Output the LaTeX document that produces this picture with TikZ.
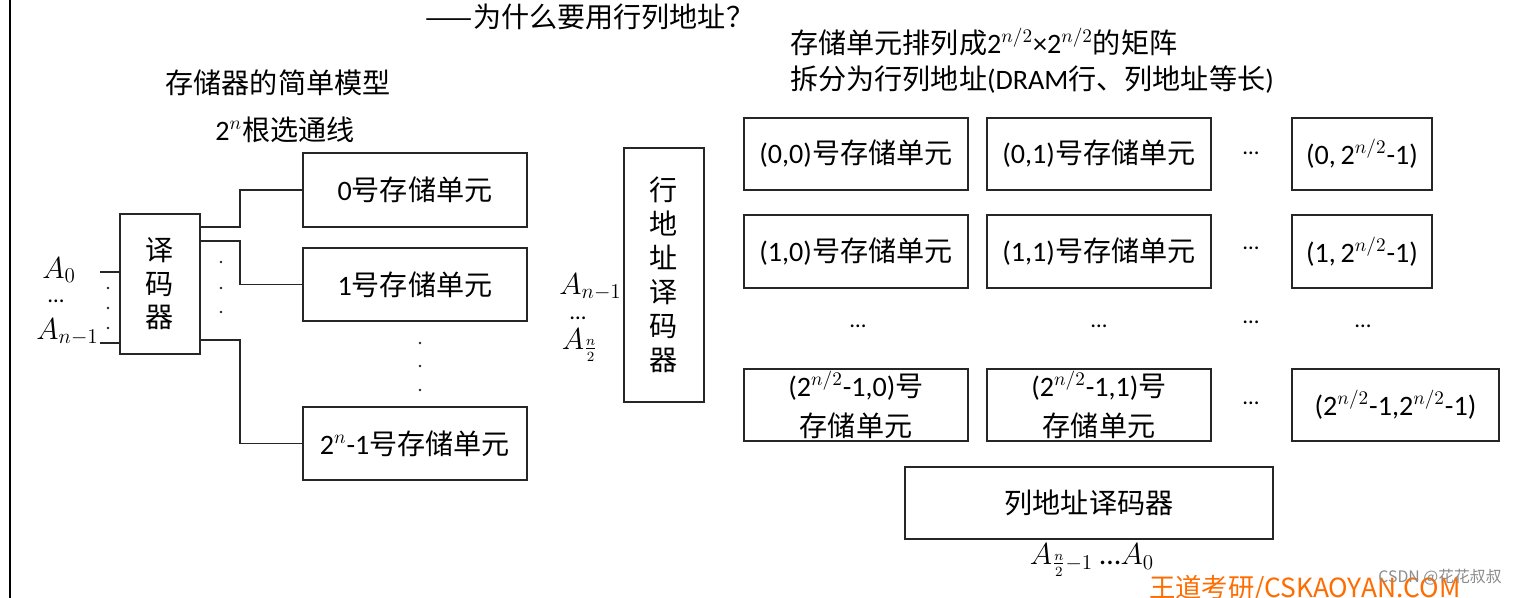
\documentclass[tikz,border=0pt]{standalone}
\usepackage{fontspec}
\setmainfont{Carlito}
\newfontfamily\cjk{Noto Sans CJK SC}
\newcommand{\zh}[1]{{\cjk #1}}
\begin{document}
\begin{tikzpicture}[x=0.02cm,y=-0.02cm,
  box/.style={draw=black!85,line width=0.9pt,inner sep=0pt,align=center,font=\fontsize{16}{19}\selectfont},
  wire/.style={draw=black!85,line width=0.8pt},
  lbl/.style={inner sep=0pt,font=\fontsize{16}{19}\selectfont},
  mlbl/.style={inner sep=0pt,font=\fontsize{17}{19}\selectfont},
  dotf/.style={fill=black!85},
  ell/.style={inner sep=0pt,font=\fontsize{13}{15}\selectfont}]
\useasboundingbox (0,0) rectangle (1516,598);
\fill[white] (0,0) rectangle (1516,598);
\draw[black,line width=1.3pt] (10,0) -- (10,598);

% headings
\node[lbl] (title) at (590,17) {\zh{——为什么要用行列地址？}};
\node[lbl] (h1) at (278,83) {\zh{存储器的简单模型}};
\node[lbl] (h2) at (285,130) {2$^{n}$\zh{根选通线}};
\node[lbl,anchor=west] (h3) at (790,42) {\zh{存储单元排列成}2$^{n/2}$×2$^{n/2}$\zh{的矩阵}};
\node[lbl,anchor=west] (h4) at (790,80) {\zh{拆分为行列地址}(DRAM\zh{行、列地址等长})};

% simple model
\node[box,minimum width=1.6cm,minimum height=2.8cm,font=\cjk\fontsize{16}{19}\selectfont] (dec) at (160,284) {译\\码\\器};
\node[box,minimum width=4.48cm,minimum height=1.48cm] (m0) at (415,190) {0\zh{号存储单元}};
\node[box,minimum width=4.48cm,minimum height=1.46cm] (m1) at (415,284.5) {1\zh{号存储单元}};
\node[box,minimum width=4.48cm,minimum height=1.46cm] (mN) at (415,443.5) {2$^{n}$-1\zh{号存储单元}};

\coordinate (o1) at (200,227);
\coordinate (o2) at (200,241);
\coordinate (o3) at (200,340);
\draw[wire] (o1) -- ++(40,0) |- (m0.west);
\draw[wire] (o2) -- ++(40,0) |- (m1.west);
\draw[wire] (o3) -- ++(40,0) |- (mN.west);

\coordinate (i1) at (100,272);
\coordinate (i2) at (100,343);
\draw[wire] (i1) -- (i1 -| dec.west);
\draw[wire] (i2) -- (i2 -| dec.west);

\foreach \y in {288,308,328} \fill[dotf] (108,\y) circle[radius=0.8pt];
\foreach \y in {262,288,312} \fill[dotf] (221,\y) circle[radius=0.8pt];
\foreach \y in {343,366,390} \fill[dotf] (420,\y) circle[radius=0.8pt];

\node[mlbl] (a0) at (59,270) {$A_0$};
\node[ell] (ad) at (56,301) {…};
\node[mlbl,anchor=east] (an) at (99,332) {$A_{n-1}$};

% row decoder
\node[box,minimum width=1.6cm,minimum height=5.08cm,font=\cjk\fontsize{16}{19.3}\selectfont] (rdec) at (664,275) {行\\地\\址\\译\\码\\器};
\node[mlbl,anchor=east] (ra1) at (622,287) {$A_{n-1}$};
\node[ell] (rad) at (578,318) {…};
\node[mlbl] (ra2) at (580,345) {$A_{\frac{n}{2}}$};

% matrix
\node[box,minimum width=4.48cm,minimum height=1.44cm] (c00) at (856,154) {(0,0)\zh{号存储单元}};
\node[box,minimum width=4.48cm,minimum height=1.44cm] (c01) at (1099,154) {(0,1)\zh{号存储单元}};
\node[box,minimum width=2.8cm,minimum height=1.44cm] (c0N) at (1362,154) {(0,\,2$^{n/2}$-1)};
\node[box,minimum width=4.48cm,minimum height=1.46cm] (c10) at (856,251.5) {(1,0)\zh{号存储单元}};
\node[box,minimum width=4.48cm,minimum height=1.46cm] (c11) at (1099,251.5) {(1,1)\zh{号存储单元}};
\node[box,minimum width=2.8cm,minimum height=1.46cm] (c1N) at (1362,251.5) {(1,\,2$^{n/2}$-1)};
\node[box,minimum width=4.48cm,minimum height=1.44cm,font=\fontsize{16}{23}\selectfont] (cN0) at (856,405) {(2$^{n/2}$-1,0)\zh{号}\\\zh{存储单元}};
\node[box,minimum width=4.48cm,minimum height=1.44cm,font=\fontsize{16}{23}\selectfont] (cN1) at (1099,405) {(2$^{n/2}$-1,1)\zh{号}\\\zh{存储单元}};
\node[box,minimum width=4.14cm,minimum height=1.44cm] (cNN) at (1395.5,405) {(2$^{n/2}$-1,2$^{n/2}$-1)};

\node[ell] (e1) at (1251,153) {…};
\node[ell] (e2) at (1251,248) {…};
\node[ell] (e3) at (858,326) {…};
\node[ell] (e4) at (1099,326) {…};
\node[ell] (e5) at (1251,322) {…};
\node[ell] (e6) at (1363,326) {…};
\node[ell] (e7) at (1251,403) {…};

\node[box,minimum width=7.36cm,minimum height=1.44cm] (cdec) at (1089,503) {\zh{列地址译码器}};
\node[mlbl] (ca) at (1092,560) {$A_{\frac{n}{2}-1}$ …$A_0$};

% watermarks
\node[inner sep=0pt,text=orange!85!red,font=\cjk\fontsize{15}{17}\selectfont] (wm) at (1305,589) {王道考研/CSKAOYAN.COM};
\node[inner sep=0pt,text=black!45,font=\cjk\fontsize{9}{11}\selectfont] (csdn) at (1440,577) {CSDN @花花叔叔};
\end{tikzpicture}
\end{document}
